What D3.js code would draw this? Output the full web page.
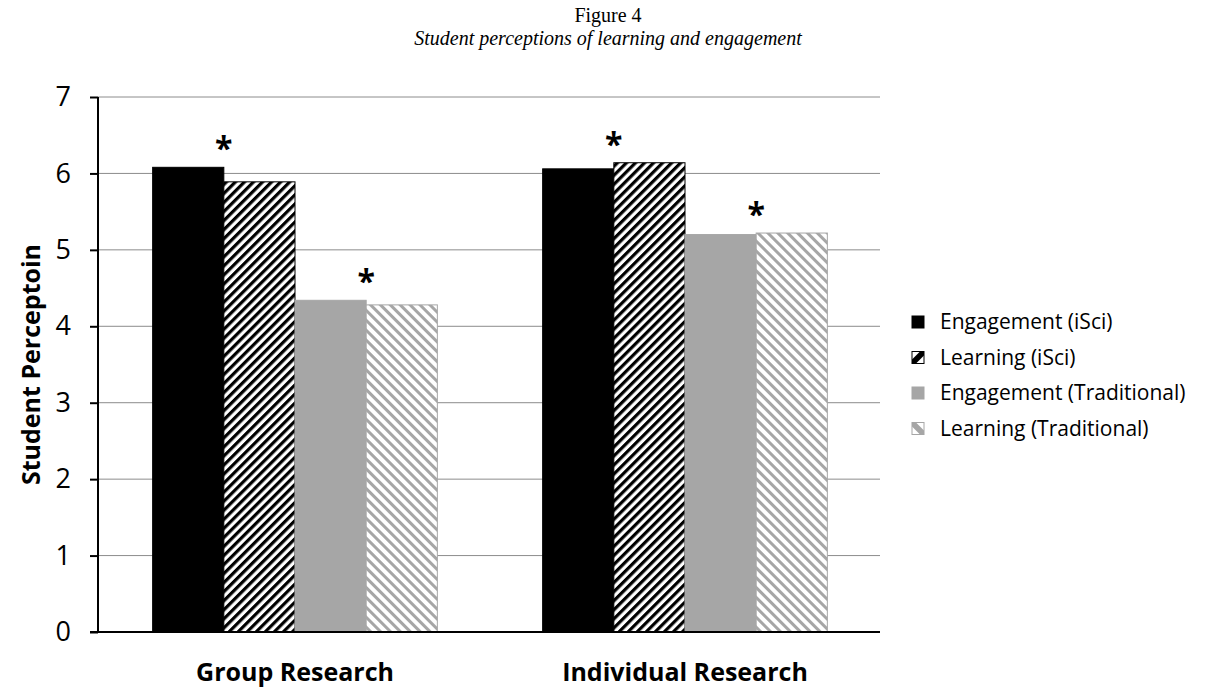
<!DOCTYPE html>
<html>
<head>
<meta charset="utf-8">
<script src="https://cdn.jsdelivr.net/npm/d3@7"></script>
<style>
  body { margin: 0; background: #fff; }
  svg { display: block; }
</style>
</head>
<body>
<svg id="chart" width="1209" height="689"></svg>
<script>
// chart data
const categories = ["Group Research", "Individual Research"];
const series = ["Engagement (iSci)", "Learning (iSci)", "Engagement (Traditional)", "Learning (Traditional)"];
const engagementIsci = [6.08, 6.06];
const learningIsci = [5.89, 6.14];
const engagementTrad = [4.34, 5.20];
const learningTrad = [4.28, 5.22];
const yTicks = [0, 1, 2, 3, 4, 5, 6, 7];
// significance markers: [category index, pair index (0 = iSci, 1 = Traditional)]
const starMarks = [[0, 0], [0, 1], [1, 0], [1, 1]];

const values = [engagementIsci, learningIsci, engagementTrad, learningTrad];

const svg = d3.select("#chart");
const margin = {left: 98, right: 329, top: 97, bottom: 57};
const width = 1209, height = 689;

const defs = svg.append("defs");
// black diagonal hatch "/"
const p1 = defs.append("pattern")
    .attr("id", "hatch-black")
    .attr("patternUnits", "userSpaceOnUse")
    .attr("width", 6.4).attr("height", 6.4)
    .attr("patternTransform", "rotate(45)");
p1.append("rect").attr("width", 6.4).attr("height", 6.4).attr("fill", "#fff");
p1.append("rect").attr("width", 3.2).attr("height", 6.4).attr("fill", "#000");

// gray diagonal hatch "\"
const p2 = defs.append("pattern")
    .attr("id", "hatch-gray")
    .attr("patternUnits", "userSpaceOnUse")
    .attr("width", 7).attr("height", 7)
    .attr("patternTransform", "rotate(-45)");
p2.append("rect").attr("width", 7).attr("height", 7).attr("fill", "#fff");
p2.append("rect").attr("width", 3).attr("height", 7).attr("fill", "#a6a6a6");

const fills = ["#000", "url(#hatch-black)", "#a6a6a6", "url(#hatch-gray)"];
const strokes = ["#000", "#000", "#a6a6a6", "#a6a6a6"];

const y = d3.scaleLinear()
    .domain([0, 7])
    .range([height - margin.bottom, margin.top]);

const x0 = d3.scaleBand()
    .domain(categories)
    .range([margin.left + 2, width - margin.right])
    .paddingInner(0.27)
    .paddingOuter(0.135);

const x1 = d3.scaleBand()
    .domain(series)
    .range([0, x0.bandwidth()]);

// title
svg.append("text")
    .attr("x", 608).attr("y", 22)
    .attr("text-anchor", "middle")
    .attr("font-family", "Liberation Serif, Times New Roman, serif")
    .attr("font-size", "20px")
    .text("Figure 4");
svg.append("text")
    .attr("x", 608).attr("y", 45)
    .attr("text-anchor", "middle")
    .attr("font-family", "Liberation Serif, Times New Roman, serif")
    .attr("font-style", "italic")
    .attr("font-size", "20px")
    .text("Student perceptions of learning and engagement");

// gridlines
svg.append("g")
    .selectAll("line")
    .data(yTicks.filter(d => d > 0))
    .join("line")
    .attr("x1", margin.left).attr("x2", width - margin.right)
    .attr("y1", d => y(d)).attr("y2", d => y(d))
    .attr("stroke", "#8c8c8c")
    .attr("stroke-width", 1);

// bars
const groups = svg.append("g")
    .selectAll("g")
    .data(categories)
    .join("g")
    .attr("transform", d => "translate(" + x0(d) + ",0)");

groups.selectAll("rect")
    .data((c, ci) => series.map((s, si) => ({s: s, si: si, v: values[si][ci]})))
    .join("rect")
    .attr("x", d => x1(d.s))
    .attr("y", d => y(d.v))
    .attr("width", x1.bandwidth())
    .attr("height", d => y(0) - y(d.v))
    .attr("fill", d => fills[d.si])
    .attr("stroke", d => strokes[d.si])
    .attr("stroke-width", 1);

// asterisks
svg.append("g")
    .selectAll("text")
    .data(starMarks)
    .join("text")
    .attr("x", d => x0(categories[d[0]]) + x1(series[d[1] * 2 + 1]))
    .attr("y", d => y(Math.max(values[d[1] * 2][d[0]], values[d[1] * 2 + 1][d[0]])) - 7)
    .attr("text-anchor", "middle")
    .attr("font-family", "Open Sans, sans-serif")
    .attr("font-weight", "bold")
    .attr("font-size", "32px")
    .text("*");

// y axis
const yAxis = svg.append("g")
    .attr("transform", "translate(" + margin.left + ",0)")
    .call(d3.axisLeft(y).tickValues(yTicks).tickFormat(d3.format("d")).tickSize(8).tickPadding(19));
yAxis.select(".domain").attr("stroke", "#000").attr("stroke-width", 2)
    .attr("d", "M0," + y(7) + "V" + y(0));
yAxis.selectAll(".tick line").attr("stroke", "#000").attr("stroke-width", 2);
yAxis.selectAll(".tick text")
    .attr("font-family", "Open Sans, sans-serif")
    .attr("font-size", "27px")
    .attr("fill", "#000");

// x baseline
svg.append("line")
    .attr("x1", margin.left - 8).attr("x2", width - margin.right)
    .attr("y1", y(0)).attr("y2", y(0))
    .attr("stroke", "#000").attr("stroke-width", 2);

// x labels
svg.append("g")
    .selectAll("text")
    .data(categories)
    .join("text")
    .attr("x", d => x0(d) + x0.bandwidth() / 2)
    .attr("y", 681)
    .attr("text-anchor", "middle")
    .attr("font-family", "Open Sans, sans-serif")
    .attr("font-weight", "bold")
    .attr("font-size", "25px")
    .text(d => d);

// y label
svg.append("text")
    .attr("transform", "translate(40," + ((y(0) + y(7)) / 2) + ") rotate(-90)")
    .attr("text-anchor", "middle")
    .attr("font-family", "Open Sans, sans-serif")
    .attr("font-weight", "bold")
    .attr("font-size", "25px")
    .text("Student Perceptoin");

// legend
const legend = svg.append("g")
    .selectAll("g")
    .data(series)
    .join("g")
    .attr("transform", (d, i) => "translate(912," + (322 + i * 35.5) + ")");
legend.append("rect")
    .attr("x", 0).attr("y", -6)
    .attr("width", 12).attr("height", 12)
    .attr("fill", (d, i) => i === 1 ? "#fff" : (i === 3 ? "#fff" : fills[i]))
    .attr("stroke", (d, i) => strokes[i])
    .attr("stroke-width", 1);
legend.filter((d, i) => i === 1 || i === 3)
    .append("path")
    .attr("d", (d, i) => i === 0 ? "M0,6 L12,-6 L12,-2 L4,6 Z M0,6 L0,2 L8,-6 L12,-6 Z" : "M0,-6 L12,6 L8,6 L0,-2 Z M0,-6 L4,-6 L12,2 L12,6 Z")
    .attr("fill", (d, i) => i === 0 ? "#000" : "#a6a6a6");
legend.append("text")
    .attr("x", 28).attr("y", 0)
    .attr("dy", "0.35em")
    .attr("font-family", "Open Sans, sans-serif")
    .attr("font-size", "21px")
    .text(d => d);
</script>
</body>
</html>
